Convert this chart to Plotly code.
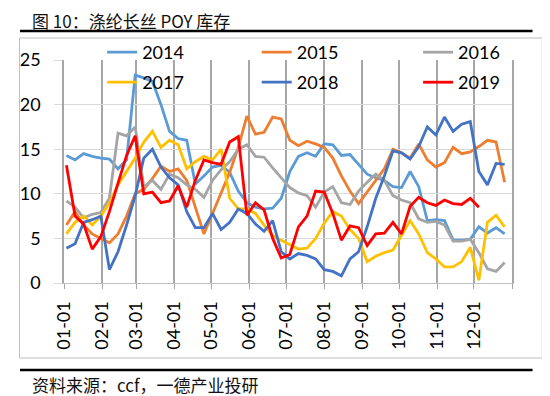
import plotly.graph_objects as go
import pandas as pd

# weekly observation dates (mapped onto a common year)
weeks = pd.date_range("2001-01-03", periods=52, freq="7D")

y2014 = [14.3, 13.8, 14.5, 14.2, 14.0, 13.9, 12.8, 13.8, 23.3, 23.0, 22.6, 20.0, 17.0, 16.2,
         16.0, 11.1, 12.0, 13.0, 13.2, 12.4, 10.3, 9.0, 8.5, 8.3, 8.4, 9.5, 12.5, 14.2,
         14.6, 14.2, 15.6, 15.5, 14.3, 14.4, 13.3, 12.2, 11.8, 11.5, 10.8, 10.7, 12.5, 10.8,
         7.0, 7.1, 7.0, 4.8, 4.8, 4.9, 6.3, 5.6, 6.2, 5.5]
y2015 = [6.5, 8.0, 6.5, 5.5, 5.0, 4.5, 5.5, 7.5, 10.0, 10.5, 11.7, 13.1, 12.5, 12.8,
         11.5, 8.5, 5.5, 7.8, 10.0, 12.4, 15.2, 18.7, 16.7, 16.9, 18.6, 18.4, 16.0, 15.4,
         15.9, 15.6, 15.2, 14.0, 12.0, 10.3, 8.9, 10.2, 11.5, 12.8, 15.0, 14.6, 14.0, 15.6,
         13.8, 13.0, 13.5, 15.2, 14.5, 14.7, 15.3, 16.0, 15.8, 11.3]
y2016 = [9.2, 8.5, 7.3, 7.7, 7.9, 9.5, 16.8, 16.5, 17.5, 10.8, 11.5, 10.5, 12.2, 11.8,
         11.0, 10.5, 9.6, 11.5, 12.7, 13.6, 15.0, 15.5, 14.2, 14.1, 12.9, 11.8, 10.7, 10.1,
         9.8, 8.5, 10.2, 10.8, 9.0, 8.8, 10.3, 11.3, 12.2, 11.5, 9.8, 9.3, 9.0, 7.2,
         6.8, 6.9, 6.5, 4.7, 4.7, 4.9, 3.4, 1.6, 1.3, 2.3]
y2017 = [5.5, 6.8, 7.5, 6.5, 7.5, 9.0, 11.0, 12.5, 14.0, 15.8, 17.0, 15.2, 16.0, 15.5,
         12.8, 13.6, 14.2, 13.8, 15.0, 9.5, 8.3, 8.3, 7.8, 6.5, 5.3, 4.8, 4.3, 3.8,
         3.9, 5.0, 6.7, 8.0, 7.5, 6.0, 5.0, 2.4, 3.0, 3.4, 3.7, 5.3, 7.0, 5.5,
         3.4, 2.7, 1.8, 1.8, 2.4, 4.0, 0.3, 6.8, 7.6, 6.3]
y2018 = [3.9, 4.4, 6.8, 7.1, 7.5, 1.5, 3.5, 6.5, 9.8, 14.0, 15.0, 13.0, 11.8, 11.0,
         8.0, 6.2, 6.2, 7.8, 6.0, 6.8, 8.3, 7.8, 6.6, 5.8, 7.0, 3.5, 2.7, 3.3,
         3.1, 2.7, 1.5, 1.3, 0.8, 2.7, 3.5, 6.3, 9.5, 12.0, 14.8, 14.6, 13.9, 15.3,
         17.5, 16.6, 18.6, 17.0, 17.8, 18.1, 12.5, 11.0, 13.4, 13.3]
y2019 = [13.2, 7.5, 6.6, 3.8, 5.2, 8.0, 11.2, 14.3, 16.5, 10.0, 10.2, 9.0, 9.2, 10.9,
         8.5, 11.5, 13.8, 13.5, 13.3, 15.8, 16.4, 7.6, 9.0, 8.2, 5.0, 2.8, 3.2, 6.3,
         7.5, 10.3, 10.2, 7.8, 4.8, 6.4, 6.2, 4.2, 5.5, 5.6, 6.8, 5.5, 8.6, 9.6,
         9.0, 8.7, 9.3, 8.9, 8.8, 9.5, 8.5, None, None, None]

series_names = ["2014", "2015", "2016", "2017", "2018", "2019"]
series_values = [y2014, y2015, y2016, y2017, y2018, y2019]
colors = ["#5B9BD5", "#ED7D31", "#A5A5A5", "#FFC000", "#4472C4", "#FF0000"]

tick_vals = ["2001-%02d-01" % m for m in range(1, 13)] + ["2002-01-01"]
tick_text = ["%02d-01" % m for m in range(1, 13)] + [""]

title_text = "图 10：涤纶长丝 POY 库存"
source_text = "资料来源：ccf，一德产业投研"

# the page body adds an 8px offset, so the figure is sized/placed to compensate
OFF = 8
W, H = 550 - OFF, 396 - OFF
L, T, pw, ph = 54 - OFF, 60 - OFF, 458, 223
R, B = W - L - pw, H - T - ph


def px(xr):
    return (xr - OFF - L) / pw


def py(yr):
    return (H - B - (yr - OFF)) / ph


# legend layout: (left edge of text) and (row centre) in reference pixels
legend_cols = [133, 291, 456]
legend_rows = [52, 82]
legend_ids = ["legend", "legend2", "legend3", "legend4", "legend5", "legend6"]

fig = go.Figure()
for name, vals, col, lg in zip(series_names, series_values, colors, legend_ids):
    fig.add_trace(go.Scatter(
        x=weeks, y=vals, name=name, mode="lines",
        line=dict(color=col, width=2.8),
        legend=lg, connectgaps=False,
    ))

num_font = dict(family="Lato, 'Liberation Sans', sans-serif", size=18, color="#000000")
cjk_font = "'Noto Sans CJK SC', sans-serif"

legends = {}
for i, lg in enumerate(legend_ids):
    cx = legend_cols[i % 3] - 40
    cy = legend_rows[i // 3] - 18
    legends[lg] = dict(
        x=px(cx), y=py(cy), orientation="v", yanchor="top", xanchor="left",
        bgcolor="rgba(0,0,0,0)", borderwidth=0, font=num_font,
    )

fig.update_layout(
    width=W, height=H,
    margin=dict(l=L, r=R, t=T, b=B, pad=0),
    paper_bgcolor="white", plot_bgcolor="white",
    showlegend=True,
    xaxis=dict(
        type="date", range=["2001-01-01", "2002-01-01"],
        tickmode="array", tickvals=tick_vals, ticktext=tick_text,
        tickangle=-90, tickfont=num_font,
        ticks="outside", ticklen=5, tickcolor="#A6A6A6",
        showgrid=True, gridcolor="#A6A6A6", gridwidth=1.5,
        showline=True, linecolor="#BFBFBF", linewidth=1.2,
        ticklabelstandoff=5, zeroline=False,
    ),
    yaxis=dict(
        range=[0, 25], tickmode="array", tickvals=[0, 5, 10, 15, 20, 25],
        tickfont=num_font,
        ticks="outside", ticklen=8, tickcolor="#D9D9D9",
        showgrid=True, gridcolor="#D9D9D9", gridwidth=1,
        showline=True, mirror=True, linecolor="#A6A6A6", linewidth=1.5,
        zeroline=False, ticklabelstandoff=10,
    ),
    shapes=[
        dict(type="rect", xref="paper", yref="paper",
             x0=px(8.5), x1=px(543), y0=py(358), y1=py(38),
             line=dict(color="#BFBFBF", width=1), layer="below"),
        dict(type="line", xref="paper", yref="paper",
             x0=px(9), x1=px(533), y0=py(31), y1=py(31),
             line=dict(color="#000000", width=2.5)),
        dict(type="line", xref="paper", yref="paper",
             x0=px(9), x1=px(533), y0=py(370), y1=py(370),
             line=dict(color="#000000", width=2.5)),
    ],
    annotations=[
        dict(text=title_text, xref="paper", yref="paper",
             x=px(19), y=py(20.5), xanchor="left", yanchor="middle",
             showarrow=False, font=dict(family=cjk_font, size=17, color="#111111")),
        dict(text=source_text, xref="paper", yref="paper",
             x=px(19), y=py(384), xanchor="left", yanchor="middle",
             showarrow=False, font=dict(family=cjk_font, size=17, color="#111111")),
    ],
)
fig.update_layout(**legends)

fig.write_html("out.html")
